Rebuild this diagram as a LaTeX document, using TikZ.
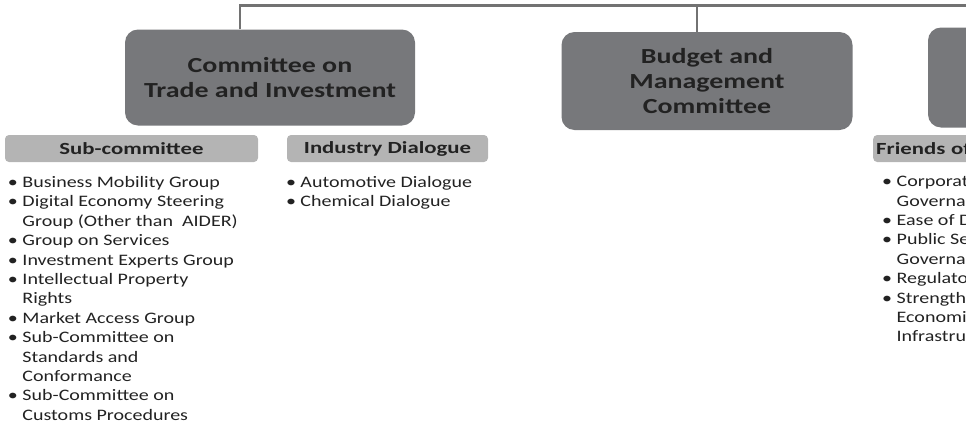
\documentclass[tikz,border=0pt]{standalone}
\usepackage{fontspec}
\setmainfont{Carlito}
\newfontfamily\listfont[FakeStretch=1.25]{Carlito}
\newfontfamily\boxfont[FakeStretch=1.3]{Carlito}
\newfontfamily\headfont[FakeStretch=1.34]{Carlito}
\usetikzlibrary{positioning}

\definecolor{boxgray}{HTML}{77787B}
\definecolor{hdgray}{HTML}{B4B4B4}
\definecolor{linegray}{HTML}{727272}
\definecolor{inkgray}{HTML}{222222}

\begin{document}
\begin{tikzpicture}[x=1pt, y=-1pt, node distance=8pt]
    \tikzset{
        committee/.style={draw=none, fill=boxgray, rounded corners=13pt, align=center,
            text=inkgray, font=\boxfont\fontsize{21.5}{25}\selectfont\bfseries, inner sep=0pt},
        subhead/.style={fill=hdgray, rounded corners=4pt, minimum height=27pt, inner sep=0pt,
            text=inkgray, font=\headfont\fontsize{17}{19}\selectfont\bfseries},
        listtext/.style={align=left, inner sep=0pt, text=inkgray,
            font=\listfont\fontsize{16}{19.4}\selectfont},
        bus/.style={draw=linegray, line width=2.6pt}
    }
    \useasboundingbox (0,0) rectangle (966,426);
    \clip (0,0) rectangle (966,426);

    % COMMITTEES
    \node[committee, minimum width=290pt, minimum height=96pt] (cti) at (270,77.5)
        {Committee on\\Trade and Investment};
    \node[committee, minimum width=291pt, minimum height=98pt] (bmc) at (707,81)
        {Budget and\\Management\\Committee};
    \node[committee, minimum width=292pt, minimum height=100pt] (ec) at (1074,77.5) {};

    % CONNECTORS
    \coordinate (top) at (1000,5.5);
    \draw[bus] ([xshift=-30pt] cti.north) |- (top);
    \draw[bus] ([xshift=-10pt] bmc.north) -- ([xshift=-10pt] bmc.north |- top);

    % SUB-HEADINGS
    \node[subhead, minimum width=253pt] (subc) at (131.5,148.5) {Sub-committee};
    \node[subhead, minimum width=201pt] (indd) at (387.5,148.5) {Industry Dialogue};
    \node[subhead, minimum width=250pt, anchor=west, text width=246pt, align=left]
        (foc) at (873,148.5) {\hspace{1pt}Friends of the Chair};

    % LISTS
    \node[listtext, below=14pt of subc.south west, anchor=north west, xshift=3pt] (sublist)
        {• Business Mobility Group\\
         • Digital Economy Steering\\
         \phantom{• }Group (Other than\ \ AIDER)\\
         • Group on Services\\
         • Investment Experts Group\\
         • Intellectual Property\\
         \phantom{• }Rights\\
         • Market Access Group\\
         • Sub-Committee on\\
         \phantom{• }Standards and\\
         \phantom{• }Conformance\\
         • Sub-Committee on\\
         \phantom{• }Customs Procedures};
    \node[listtext, below=14pt of indd.south west, anchor=north west, xshift=-1pt] (indlist)
        {• Automotive Dialogue\\
         • Chemical Dialogue};
    \node[listtext, below=14pt of foc.south west, anchor=north west, xshift=9pt] (foclist)
        {• Corporate\\
         \phantom{• }Governance\\
         • Ease of Doing Business\\
         • Public Sector\\
         \phantom{• }Governance\\
         • Regulatory Reform\\
         • Strengthening\\
         \phantom{• }Economic Legal\\
         \phantom{• }Infrastructure};
\end{tikzpicture}
\end{document}
